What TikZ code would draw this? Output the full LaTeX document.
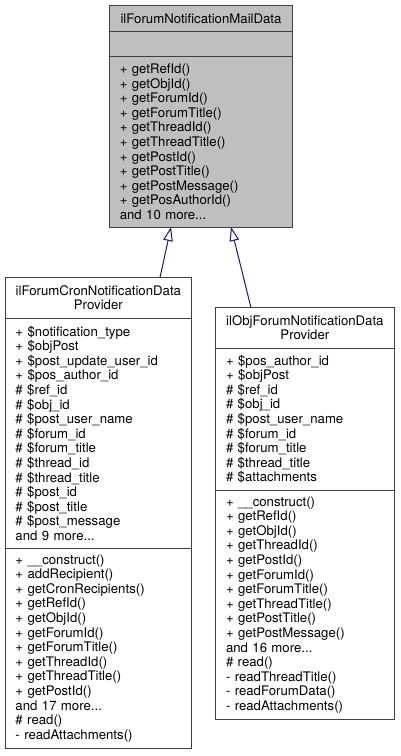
\documentclass[tikz,border=0pt]{standalone}
\usepackage{fontspec}
\setmainfont{TeX Gyre Heros}
\usetikzlibrary{positioning,arrows.meta}
\definecolor{boxgray}{HTML}{BFBFBF}
\definecolor{edgeblue}{HTML}{191970}
\definecolor{framegray}{HTML}{404040}

\begin{document}
\begin{tikzpicture}[x=1pt, y=-1pt,
    umlpart/.style={draw=framegray, line width=1pt, rectangle, outer sep=0pt,
        inner xsep=10.5pt, inner ysep=1pt, font=\fontsize{13.2}{14.6}\selectfont},
    classname/.style={umlpart, align=center},
    members/.style={umlpart, align=left},
    inherit/.style={draw=edgeblue, line width=1pt, -{Triangle[open, length=14pt, width=9.5pt]}}]
    \useasboundingbox (0,0) rectangle (400,756);
    % base class
    \node[classname, fill=boxgray, text width=162.4pt, minimum height=26.7pt, anchor=north] (mail) at (201,5) {ilForumNotificationMailData};
    \node[members, fill=boxgray, text width=162.4pt, minimum height=25pt, below=0pt of mail] (mailattr) {};
    \node[members, fill=boxgray, text width=162.4pt, minimum height=170.3pt, below=0pt of mailattr] (mailops) {%
        + getRefId()\\ + getObjId()\\ + getForumId()\\ + getForumTitle()\\ + getThreadId()\\
        + getThreadTitle()\\ + getPostId()\\ + getPostTitle()\\ + getPostMessage()\\
        + getPosAuthorId()\\ and 10 more...};
    % cron provider
    \node[classname, text width=165.7pt, minimum height=41pt, anchor=north] (cron) at (98.35,277.3) {ilForumCronNotificationData\\ Provider};
    \node[members, text width=165.7pt, minimum height=230pt, below=0pt of cron] (cronattr) {%
        + \$notification\_type\\ + \$objPost\\ + \$post\_update\_user\_id\\ + \$pos\_author\_id\\
        \# \$ref\_id\\ \# \$obj\_id\\ \# \$post\_user\_name\\ \# \$forum\_id\\ \# \$forum\_title\\
        \# \$thread\_id\\ \# \$thread\_title\\ \# \$post\_id\\ \# \$post\_title\\
        \# \$post\_message\\ and 9 more...};
    \node[members, text width=165.7pt, minimum height=200pt, below=0pt of cronattr] (cronops) {%
        + \_\_construct()\\ + addRecipient()\\ + getCronRecipients()\\ + getRefId()\\ + getObjId()\\
        + getForumId()\\ + getForumTitle()\\ + getThreadId()\\ + getThreadTitle()\\ + getPostId()\\
        and 17 more...\\ \# read()\\ - readAttachments()};
    % object provider
    \node[classname, text width=157.8pt, minimum height=40.7pt, anchor=north] (obj) at (304.9,307.3) {ilObjForumNotificationData\\ Provider};
    \node[members, text width=157.8pt, minimum height=142.4pt, below=0pt of obj] (objattr) {%
        + \$pos\_author\_id\\ + \$objPost\\ \# \$ref\_id\\ \# \$obj\_id\\ \# \$post\_user\_name\\
        \# \$forum\_id\\ \# \$forum\_title\\ \# \$thread\_title\\ \# \$attachments};
    \node[members, text width=157.8pt, minimum height=229pt, below=0pt of objattr] (objops) {%
        + \_\_construct()\\ + getRefId()\\ + getObjId()\\ + getThreadId()\\ + getPostId()\\
        + getForumId()\\ + getForumTitle()\\ + getThreadTitle()\\ + getPostTitle()\\
        + getPostMessage()\\ and 16 more...\\ \# read()\\ - readThreadTitle()\\
        - readForumData()\\ - readAttachments()};
    % inheritance
    \draw[inherit] ([xshift=61.7pt]cron.north) -- ([xshift=-30pt]mailops.south);
    \draw[inherit] ([xshift=-54pt]obj.north) -- ([xshift=30pt]mailops.south);
\end{tikzpicture}
\end{document}
